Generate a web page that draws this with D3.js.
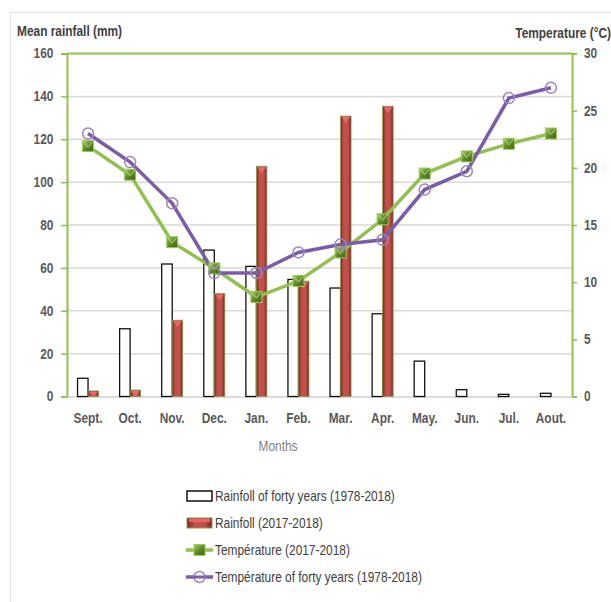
<!DOCTYPE html>
<html><head><meta charset="utf-8">
<script src="https://cdn.jsdelivr.net/npm/d3@7/dist/d3.min.js"></script>
<style>
body{margin:0;background:#fff;}
text{font-family:"Liberation Sans Narrow","Liberation Sans",Arial,sans-serif;}
</style></head><body>
<svg id="c" width="611" height="602"></svg>
<script>
const months = ["Sept.","Oct.","Nov.","Dec.","Jan.","Feb.","Mar.","Apr.","May.","Jun.","Jul.","Aout."];
const rainForty = [8.5,31.6,61.8,68.3,60.7,54.6,50.6,38.6,16.5,3.2,1.0,1.5];
const rain1718 = [2.6,3.0,35.6,48.0,107.4,53.8,130.8,135.4,0,0,0,0];
const temp1718 = [21.9,19.4,13.5,11.2,8.7,10.1,12.6,15.5,19.5,21.0,22.1,23.0];
const tempForty = [23.0,20.5,16.9,10.8,10.8,12.6,13.3,13.7,18.1,19.7,26.1,27.0];
const leftTicks = [0,20,40,60,80,100,120,140,160];
const rightTicks = [0,5,10,15,20,25,30];
const legendLabels = ["Rainfoll of forty years (1978-2018)","Rainfoll (2017-2018)","Température (2017-2018)","Température of forty years (1978-2018)"];

const svg = d3.select("#c");
const L=67, R=572, T=53.5, B=396.5;
const green="#92c04e", purple="#7b5ca8", gray="#595959";
const SX=0.85;

function label(x,y,t,opts){
  const el = svg.append("text").attr("transform",`translate(${x},${y}) scale(${SX},1)`)
    .attr("font-size",opts.size||14).attr("font-weight",opts.weight||"normal")
    .attr("fill",opts.fill||"#404040").attr("text-anchor",opts.anchor||"start").text(t);
  return el;
}

const defs = svg.append("defs");
const rg = defs.append("linearGradient").attr("id","redg").attr("x1","0").attr("x2","1").attr("y1","0").attr("y2","0");
rg.append("stop").attr("offset","0").attr("stop-color","#7a2321");
rg.append("stop").attr("offset","0.3").attr("stop-color","#c4504c");
rg.append("stop").attr("offset","0.7").attr("stop-color","#c4504c");
rg.append("stop").attr("offset","1").attr("stop-color","#7a2321");
const gg = defs.append("linearGradient").attr("id","greeng").attr("x1","0").attr("x2","1").attr("y1","0").attr("y2","1");
gg.append("stop").attr("offset","0").attr("stop-color","#a6cf62");
gg.append("stop").attr("offset","0.5").attr("stop-color","#5f8a2a");
gg.append("stop").attr("offset","1").attr("stop-color","#3f6318");

// outer frame
svg.append("rect").attr("x",10.5).attr("y",12.5).attr("width",640).attr("height",640)
  .attr("fill","none").attr("stroke","#e4e4e4");

const x = d3.scaleBand().domain(months).range([L,R]);
const yL = d3.scaleLinear().domain([0,160]).range([B,T]);
const yR = d3.scaleLinear().domain([0,30]).range([B,T]);

// gridlines
svg.append("g").selectAll("line").data(leftTicks.slice(1,-1)).join("line")
  .attr("x1",L).attr("x2",R).attr("y1",d=>yL(d)).attr("y2",d=>yL(d))
  .attr("stroke","#d9d9d9").attr("stroke-width",1.5);

// left axis
const gl = svg.append("g").attr("transform",`translate(${L},0)`)
  .call(d3.axisLeft(yL).tickValues(leftTicks).tickSize(6).tickPadding(10));
gl.select(".domain").attr("stroke",green).attr("stroke-width",2);
gl.selectAll(".tick line").attr("stroke",green).attr("stroke-width",1.5);
gl.selectAll(".tick text").attr("fill",gray).attr("font-size",14).attr("font-weight","bold").attr("transform",`scale(${SX},1)`);

// right axis
const gr = svg.append("g").attr("transform",`translate(${R},0)`)
  .call(d3.axisRight(yR).tickValues(rightTicks).tickSize(5).tickPadding(9));
gr.select(".domain").attr("stroke",green).attr("stroke-width",2);
gr.selectAll(".tick line").attr("stroke",green).attr("stroke-width",1.5);
gr.selectAll(".tick text").attr("fill",gray).attr("font-size",14).attr("font-weight","bold").attr("transform",`scale(${SX},1)`);

// top border
svg.append("line").attr("x1",L).attr("x2",R).attr("y1",T).attr("y2",T).attr("stroke",green).attr("stroke-width",2);

// x axis
const gx = svg.append("g").attr("transform",`translate(0,${B})`)
  .call(d3.axisBottom(x).tickSize(0).tickPadding(17));
gx.select(".domain").attr("stroke","#cfcfcf").attr("stroke-width",1.5);
gx.selectAll(".tick text").attr("fill",gray).attr("font-size",14).attr("font-weight","bold").attr("transform",`scale(${SX},1)`);

const bw = 10.5;
// white bars
svg.append("g").selectAll("rect").data(months).join("rect")
  .attr("x",d=>x(d)+x.bandwidth()/2-bw)
  .attr("y",(d,i)=>yL(rainForty[i]))
  .attr("width",bw).attr("height",(d,i)=>B-yL(rainForty[i]))
  .attr("fill","#fff").attr("stroke","#111").attr("stroke-width",1.3);
// red bars
const rb = svg.append("g").selectAll("g").data(months.filter((d,i)=>rain1718[i]>0)).join("g");
rb.append("rect")
  .attr("x",d=>x(d)+x.bandwidth()/2)
  .attr("y",d=>yL(rain1718[months.indexOf(d)]))
  .attr("width",bw).attr("height",d=>B-yL(rain1718[months.indexOf(d)]))
  .attr("fill","url(#redg)").attr("stroke","#8a9a4a").attr("stroke-width",0.8);
rb.append("path")
  .attr("d",d=>{const x0=x(d)+x.bandwidth()/2, y0=yL(rain1718[months.indexOf(d)]);
    const h=Math.min(7,B-y0); return `M${x0+1},${y0+1}L${x0+bw-1},${y0+1}L${x0+bw/2},${y0+h}Z`;})
  .attr("fill","#e8666a");

// lines
const lineG = d3.line().x((d,i)=>x(months[i])+x.bandwidth()/2).y(d=>yR(d));
svg.append("path").datum(temp1718).attr("d",lineG).attr("fill","none").attr("stroke",green).attr("stroke-width",3.5);
svg.append("path").datum(tempForty).attr("d",lineG).attr("fill","none").attr("stroke",purple).attr("stroke-width",3.5);

// green markers
const sq=11;
const gm = svg.append("g").selectAll("g").data(temp1718).join("g")
  .attr("transform",(d,i)=>`translate(${x(months[i])+x.bandwidth()/2},${yR(d)})`);
gm.append("rect").attr("x",-sq/2).attr("y",-sq/2).attr("width",sq).attr("height",sq)
  .attr("fill","url(#greeng)").attr("stroke","#9bc75a").attr("stroke-width",1);
gm.append("path").attr("d",`M${-sq/2+1},${-sq/2+1}L0,1L${sq/2-1},${-sq/2+1}`).attr("fill","none").attr("stroke","#b6da7a").attr("stroke-width",1);

// purple markers
svg.append("g").selectAll("circle").data(tempForty).join("circle")
  .attr("cx",(d,i)=>x(months[i])+x.bandwidth()/2).attr("cy",d=>yR(d)).attr("r",5.5)
  .attr("fill","none").attr("stroke","#9d84c6").attr("stroke-width",1.5);

// titles
label(17,36,"Mean rainfall (mm)",{weight:"bold"});
label(611,38,"Temperature (°C)",{weight:"bold",anchor:"end"});
label(278,451,"Months",{fill:"#7f7f7f",anchor:"middle"});

// legend
const ly=[496,523,550,577];
legendLabels.forEach((t,i)=>{
  const g=svg.append("g").attr("transform",`translate(0,${ly[i]})`);
  if(i===0){ g.append("rect").attr("x",187).attr("y",-5).attr("width",25).attr("height",10).attr("fill","#fff").attr("stroke","#111").attr("stroke-width",1.5); }
  if(i===1){ g.append("rect").attr("x",187).attr("y",-5).attr("width",25).attr("height",10).attr("fill","url(#redg)").attr("stroke","#8a9a4a").attr("stroke-width",1);
    g.append("rect").attr("x",189).attr("y",-4).attr("width",21).attr("height",3).attr("fill","#e8666a"); }
  if(i===2){ g.append("line").attr("x1",186).attr("x2",213).attr("y1",0).attr("y2",0).attr("stroke",green).attr("stroke-width",3.5);
    g.append("rect").attr("x",194).attr("y",-5.5).attr("width",11).attr("height",11).attr("fill","url(#greeng)").attr("stroke","#9bc75a"); }
  if(i===3){ g.append("line").attr("x1",186).attr("x2",213).attr("y1",0).attr("y2",0).attr("stroke",purple).attr("stroke-width",3.5);
    g.append("circle").attr("cx",199.5).attr("cy",0).attr("r",5.5).attr("fill","#fff").attr("stroke","#9d84c6").attr("stroke-width",1.5);
    g.append("line").attr("x1",194).attr("x2",205).attr("y1",0).attr("y2",0).attr("stroke",purple).attr("stroke-width",3); }
  label(215,ly[i]+5,t,{});
});
</script></body></html>
